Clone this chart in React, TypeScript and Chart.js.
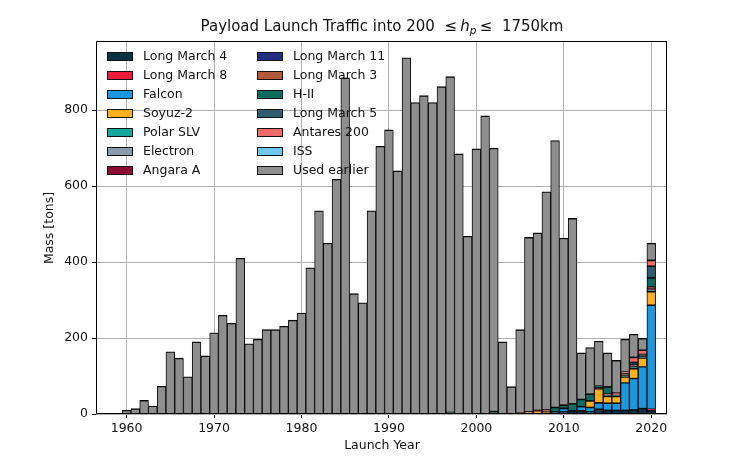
import React, { useEffect, useRef } from "react";
import { Chart, registerables } from "chart.js";

Chart.register(...registerables);

const YEARS = [
  1957, 1958, 1959, 1960, 1961, 1962, 1963, 1964, 1965, 1966, 1967, 1968, 1969,
  1970, 1971, 1972, 1973, 1974, 1975, 1976, 1977, 1978, 1979, 1980, 1981, 1982,
  1983, 1984, 1985, 1986, 1987, 1988, 1989, 1990, 1991, 1992, 1993, 1994, 1995,
  1996, 1997, 1998, 1999, 2000, 2001, 2002, 2003, 2004, 2005, 2006, 2007, 2008,
  2009, 2010, 2011, 2012, 2013, 2014, 2015, 2016, 2017, 2018, 2019, 2020,
];

// "Used earlier" (gray) mass per year, 1957..2020
const USED_EARLIER = [
  0.1, 0.5, 1.5, 10, 14, 36, 21, 73, 164, 147, 98, 190, 153,
  214, 260, 239, 410, 185, 197, 222, 222, 231, 247, 266, 385, 535,
  450, 618, 885, 317, 293, 535, 705, 748, 640, 938, 820, 838, 820,
  862, 883, 685, 468, 698, 785, 693, 190, 72, 219, 459, 467, 574,
  702, 439, 487, 122, 122, 117, 89, 84, 85, 60, 30, 44,
];

// Newer vehicles: values per year for 1995..2020
const RECENT_START = 1995;
const LONG_MARCH_4 = [0, 0, 0, 0, 0, 0, 0, 2, 0, 0, 0, 2, 2, 3, 6, 6, 9, 9, 6, 13, 10, 10, 10, 11, 15, 10];
const LONG_MARCH_8 = [0, 0, 0, 0, 0, 0, 0, 0, 0, 0, 0, 0, 0, 0, 0, 0, 0, 0, 0, 0, 0, 0, 0, 0, 0, 3];
const FALCON = [0, 0, 0, 0, 0, 0, 0, 0, 0, 0, 0, 0, 0, 0, 0, 9, 0, 11, 12, 17, 19, 19, 73, 83, 110, 274];
const SOYUZ_2 = [0, 0, 0, 0, 0, 0, 0, 0, 0, 0, 3, 4, 3, 4, 0, 0, 0, 0, 17, 37, 18, 18, 15, 26, 23, 36];
const POLAR_SLV = [0, 0, 0, 0, 0, 0, 0, 0, 0, 0, 0, 0, 0, 0, 0, 0, 0, 0, 0, 0, 2, 2, 3, 3, 3, 2];
const ELECTRON = [0, 0, 0, 0, 0, 0, 0, 0, 0, 0, 0, 0, 0, 0, 0, 0, 0, 0, 0, 0, 0, 0, 0, 0.5, 0.6, 0.7];
const ANGARA_A = [0, 0, 0, 0, 0, 0, 0, 0, 0, 0, 0, 0, 0, 0, 0, 0, 0, 0, 0, 2, 0, 0, 0, 0, 0, 3];
const LONG_MARCH_11 = [0, 0, 0, 0, 0, 0, 0, 0, 0, 0, 0, 0, 0, 0, 0, 0, 0, 0, 0, 0, 1, 1, 0, 1, 2, 1];
const LONG_MARCH_3 = [0, 0, 0, 0, 0, 0, 0, 0, 0, 0, 0, 0, 5, 4, 0, 1, 0, 0, 0, 0, 3, 3, 3, 5, 2, 5];
const H_II = [0, 0, 5, 0, 0, 0, 0, 5, 0, 0, 0, 0, 0, 0, 12, 8, 19, 19, 18, 6, 19, 0, 2, 7, 2, 24];
const LONG_MARCH_5 = [0, 0, 0, 0, 0, 0, 0, 0, 0, 0, 0, 0, 0, 0, 0, 0, 0, 0, 0, 0, 0, 0, 0, 0, 0, 31];
const ANTARES_200 = [0, 0, 0, 0, 0, 0, 0, 0, 0, 0, 0, 0, 0, 0, 0, 0, 0, 0, 0, 0, 0, 4, 6, 13, 11, 15];
const ISS = [0, 0, 0, 0, 0, 0, 0, 0, 0, 0, 0, 0, 0, 0, 0, 0, 0, 0, 0, 0, 0, 0, 0, 0.5, 0.5, 1];

const X_TICKS = [1960, 1970, 1980, 1990, 2000, 2010, 2020];
const Y_TICKS = [0, 200, 400, 600, 800];

const SERIES: { label: string; values: number[]; recent: boolean; color: string }[] = [
  { label: "Long March 4", values: LONG_MARCH_4, recent: true, color: "#0b3142" },
  { label: "Long March 8", values: LONG_MARCH_8, recent: true, color: "#ee1c3a" },
  { label: "Falcon", values: FALCON, recent: true, color: "#1b98e0" },
  { label: "Soyuz-2", values: SOYUZ_2, recent: true, color: "#fdb021" },
  { label: "Polar SLV", values: POLAR_SLV, recent: true, color: "#14a89a" },
  { label: "Electron", values: ELECTRON, recent: true, color: "#8a9bab" },
  { label: "Angara A", values: ANGARA_A, recent: true, color: "#8b0b33" },
  { label: "Long March 11", values: LONG_MARCH_11, recent: true, color: "#202f80" },
  { label: "Long March 3", values: LONG_MARCH_3, recent: true, color: "#b35a3a" },
  { label: "H-II", values: H_II, recent: true, color: "#0e6b5f" },
  { label: "Long March 5", values: LONG_MARCH_5, recent: true, color: "#2f5c6e" },
  { label: "Antares 200", values: ANTARES_200, recent: true, color: "#f26b6b" },
  { label: "ISS", values: ISS, recent: true, color: "#70c8ef" },
  { label: "Used earlier", values: USED_EARLIER, recent: false, color: "#8e8e8e" },
];

const FONT = "'DejaVu Sans', 'Verdana', sans-serif";
const TEXT = "#111";

function valueFor(s: { values: number[]; recent: boolean }, year: number): number | null {
  const idx = s.recent ? year - RECENT_START : YEARS.indexOf(year);
  if (idx < 0 || idx >= s.values.length) return null;
  const v = s.values[idx];
  return v > 0 ? v : null;
}

const decorPlugin = {
  id: "decor",
  afterDatasetsDraw(chart: any) {
    const { ctx, chartArea } = chart;
    ctx.save();
    // frame
    ctx.strokeStyle = "#000";
    ctx.lineWidth = 1;
    ctx.strokeRect(
      Math.round(chartArea.left) + 0.5,
      Math.round(chartArea.top) + 0.5,
      Math.round(chartArea.right - chartArea.left) - 1,
      Math.round(chartArea.bottom - chartArea.top) - 1
    );
    // legend (transparent)
    const fs = 12.5;
    ctx.font = `${fs}px ${FONT}`;
    ctx.textBaseline = "middle";
    ctx.textAlign = "left";
    SERIES.forEach((s, i) => {
      const col = i < 7 ? 0 : 1;
      const row = i % 7;
      const bx = col === 0 ? 107 : 257;
      const cy = 56.5 + row * 19;
      ctx.fillStyle = s.color;
      ctx.fillRect(bx, cy - 4.5, 26, 9);
      ctx.strokeStyle = "#111";
      ctx.lineWidth = 1;
      ctx.strokeRect(bx + 0.5, Math.round(cy - 4.5) + 0.5, 25, 8);
      ctx.fillStyle = TEXT;
      ctx.fillText(s.label, bx + 36, cy + 0.5);
    });
    ctx.restore();
  },
  afterDraw(chart: any) {
    const { ctx } = chart;
    ctx.save();
    // title
    const fs = 15;
    const normal = `${fs}px ${FONT}`;
    const italic = `italic ${fs}px ${FONT}`;
    const sub = `italic ${fs * 0.7}px ${FONT}`;
    const parts: { t: string; f: string; dy: number }[] = [
      { t: "Payload Launch Traffic into 200  ", f: normal, dy: 0 },
      { t: "\u2264", f: normal, dy: 0 },
      { t: " ", f: sub, dy: 0 },
      { t: "h", f: italic, dy: 0 },
      { t: "p", f: sub, dy: 2.5 },
      { t: " ", f: sub, dy: 0 },
      { t: "\u2264", f: normal, dy: 0 },
      { t: "  1750km", f: normal, dy: 0 },
    ];
    let total = 0;
    const widths = parts.map((p) => {
      ctx.font = p.f;
      const w = ctx.measureText(p.t).width;
      total += w;
      return w;
    });
    let x = 382 - total / 2;
    ctx.fillStyle = TEXT;
    ctx.textBaseline = "alphabetic";
    ctx.textAlign = "left";
    parts.forEach((p, i) => {
      ctx.font = p.f;
      ctx.fillText(p.t, x, 31 + p.dy);
      x += widths[i];
    });
    // axis titles
    ctx.font = `12.5px ${FONT}`;
    ctx.textAlign = "center";
    ctx.textBaseline = "middle";
    ctx.fillText("Launch Year", 382, 446);
    ctx.translate(50, 228);
    ctx.rotate(-Math.PI / 2);
    ctx.fillText("Mass [tons]", 0, 0);
    ctx.restore();
  },
};

export default function App() {
  const ref = useRef<HTMLCanvasElement | null>(null);
  useEffect(() => {
    if (!ref.current) return;
    const datasets = SERIES.map((s) => ({
      label: s.label,
      data: YEARS.map((y) => ({ x: y, y: valueFor(s, y) })),
      backgroundColor: s.color,
      borderColor: "#0a0a0a",
      borderWidth: { top: 1.4, bottom: 0.8, left: 1, right: 1 },
      borderSkipped: false,
      barPercentage: 1,
      categoryPercentage: 1,
    }));
    const chart = new Chart(ref.current, {
      type: "bar",
      data: { datasets } as any,
      options: {
        responsive: false,
        animation: false,
        devicePixelRatio: 1,
        layout: { padding: { left: 0, right: 81, top: 41, bottom: 0 } },
        plugins: { legend: { display: false }, tooltip: { enabled: false }, title: { display: false } },
        scales: {
          x: {
            type: "linear",
            min: 1956.5,
            max: 2021.8,
            offset: false,
            stacked: true,
            afterBuildTicks: (s: any) => {
              s.ticks = X_TICKS.map((v) => ({ value: v }));
            },
            afterFit: (s: any) => {
              s.height = 44;
            },
            ticks: {
              font: { family: FONT, size: 12.5 },
              color: TEXT,
              padding: 3,
              maxRotation: 0,
              autoSkip: false,
              callback: (v: any) => String(v),
            },
            grid: { color: "#b0b0b0", lineWidth: 1, tickColor: "#000", tickLength: 4, offset: false },
            border: { display: false },
          },
          y: {
            min: 0,
            max: 982,
            stacked: true,
            afterBuildTicks: (s: any) => {
              s.ticks = Y_TICKS.map((v) => ({ value: v }));
            },
            afterFit: (s: any) => {
              s.width = 96;
            },
            ticks: {
              font: { family: FONT, size: 12.5 },
              color: TEXT,
              padding: 4,
              autoSkip: false,
              callback: (v: any) => String(v),
            },
            grid: { color: "#b0b0b0", lineWidth: 1, tickColor: "#000", tickLength: 4 },
            border: { display: false },
          },
        },
      } as any,
      plugins: [decorPlugin],
    });
    return () => chart.destroy();
  }, []);
  return (
    <div style={{ position: "fixed", left: 0, top: 0, width: 748, height: 458, background: "#fff" }}>
      <canvas ref={ref} width={748} height={458} style={{ width: 748, height: 458, display: "block" }} />
    </div>
  );
}
